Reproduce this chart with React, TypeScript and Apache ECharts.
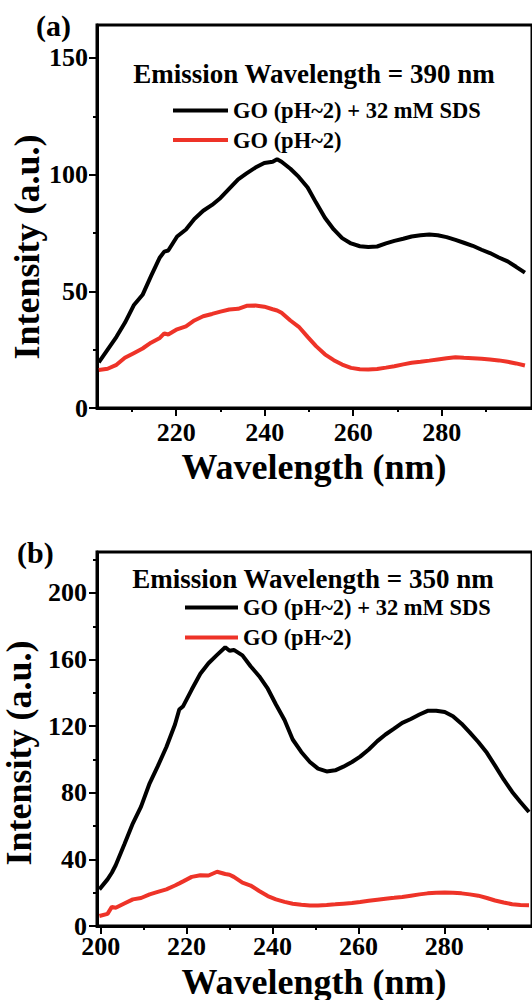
import React, { useEffect, useRef } from "react";
import * as echarts from "echarts";

const FONT = "'Liberation Serif', 'Times New Roman', serif";
const RED = "#ee3328";

const seriesNames = ["GO (pH~2) + 32 mM SDS", "GO (pH~2)"];
const panelLabels = ["(a)", "(b)"];
const emissionTexts = ["Emission Wavelength = 390 nm", "Emission Wavelength = 350 nm"];
const xTitle = "Wavelength (nm)";
const yTitle = "Intensity (a.u.)";

// Panel (a)
const topWavelength = [202.5, 204.5, 206.5, 208.4, 210.4, 212.4, 214.3, 216.3, 217.3, 218.2, 220.2, 222.2, 224.1, 226.1, 228.1, 230.0, 232.0, 234.0, 235.9, 237.9, 239.9, 241.8, 242.8, 243.8, 245.8, 247.7, 249.7, 251.6, 253.6, 255.6, 257.5, 259.5, 261.5, 263.4, 265.4, 267.4, 269.3, 271.3, 273.2, 275.2, 277.2, 279.1, 281.1, 283.1, 285.0, 287.0, 289.0, 290.9, 292.9, 294.9, 296.8, 298.8];
const topSds = [19.5, 25, 30.5, 36.5, 44, 48.5, 56.5, 64.5, 67, 67.5, 73.5, 76.5, 81, 84.5, 87, 90, 94, 98, 100.5, 103, 105, 105.5, 106.6, 105.5, 102.5, 99, 94.5, 88, 81.5, 76.5, 72.8, 70.5, 69.3, 69, 69.2, 70.5, 71.6, 72.5, 73.5, 74, 74.3, 74, 73.2, 72, 70.8, 69.5, 67.8, 66.4, 64.5, 62.8, 60.5, 58];
const topGo = [16.3, 16.8, 18.5, 21.5, 23.5, 25.5, 28, 30, 32, 31.5, 33.7, 35, 37.5, 39.3, 40.3, 41.3, 42.2, 42.5, 43.8, 43.9, 43.4, 42.3, 41.8, 40.8, 37.5, 34.8, 30.5, 26.5, 23, 20.5, 18.6, 17.2, 16.6, 16.5, 16.7, 17.3, 17.9, 18.7, 19.4, 19.8, 20.3, 20.8, 21.3, 21.7, 21.5, 21.3, 21.1, 20.8, 20.4, 19.8, 19.1, 18.2];
const topXMajor = [220, 240, 260, 280];
const topXMinor = [210, 230, 250, 270, 290];
const topYMajor = [0, 50, 100, 150];
const topYMinor = [25, 75, 125];

// Panel (b)
const botWavelength = [199.7, 201.6, 202.6, 203.5, 205.5, 207.5, 209.4, 211.4, 213.3, 215.3, 217.3, 218.3, 219.2, 221.2, 223.2, 225.1, 227.1, 229.0, 230.0, 231.0, 233.0, 234.9, 236.9, 238.9, 240.8, 242.8, 244.7, 246.7, 248.7, 250.6, 252.6, 254.6, 256.5, 258.5, 260.4, 262.4, 264.4, 266.3, 268.3, 270.2, 272.2, 274.2, 276.1, 278.1, 280.1, 282.0, 284.0, 285.9, 287.9, 289.9, 291.8, 293.8, 295.8, 297.7, 299.7];
const botSds = [22, 28, 32, 36.5, 49, 61.7, 71.7, 85.7, 96, 107.5, 121, 130, 132, 142, 151.5, 157.8, 162.8, 167.4, 165.3, 165.8, 162.5, 156, 150, 142.5, 133, 123.7, 112, 104.5, 98.5, 94.5, 92.8, 93.5, 95.7, 98.5, 101.7, 106, 111, 115, 118.5, 122, 124.3, 127, 129.2, 129.3, 128.5, 126, 121.5, 116.3, 110.5, 104, 96.3, 88, 80.5, 74.5, 68.5];
const botGo = [6, 7.3, 11.5, 11, 13.5, 16, 16.8, 19, 20.5, 22, 24.3, 25.6, 26.8, 29.5, 30.5, 30.3, 32.6, 31.2, 30.8, 29.5, 26, 24.3, 21, 18, 16, 14.5, 13.4, 12.8, 12.3, 12.3, 12.6, 13, 13.4, 13.8, 14.4, 15.1, 15.8, 16.4, 16.9, 17.4, 18.2, 19, 19.6, 20, 20.1, 20, 19.6, 19, 18.2, 16.8, 15.3, 14.1, 13.1, 12.6, 12.5];
const botXMajor = [200, 220, 240, 260, 280];
const botXMinor = [210, 230, 250, 270, 290];
const botYMajor = [0, 40, 80, 120, 160, 200];
const botYMinor = [20, 60, 100, 140, 180, 220];

const labelStyle = { fontFamily: FONT, fontWeight: "bold" as const, fontSize: 26, color: "#000" };

function mainX(gridIndex: number, min: number, max: number, major: number[], margin: number) {
  return {
    type: "value", gridIndex, min, max, position: "bottom",
    axisLine: { show: true, onZero: false, lineStyle: { color: "#000", width: 3 } },
    axisTick: { show: true, inside: false, length: 8, customValues: major, lineStyle: { color: "#000", width: 2 } },
    axisLabel: { ...labelStyle, lineHeight: 20, margin, customValues: major },
    splitLine: { show: false },
  };
}
function minorX(gridIndex: number, min: number, max: number, minor: number[]) {
  return {
    type: "value", gridIndex, min, max, position: "bottom",
    axisLine: { show: false, onZero: false },
    axisTick: { show: true, inside: false, length: 4, customValues: minor, lineStyle: { color: "#000", width: 2 } },
    axisLabel: { show: false },
    splitLine: { show: false },
  };
}
function mainY(gridIndex: number, min: number, max: number, major: number[], margin: number) {
  return {
    type: "value", gridIndex, min, max, position: "left",
    axisLine: { show: true, onZero: false, lineStyle: { color: "#000", width: 3 } },
    axisTick: { show: true, inside: false, length: 8, customValues: major, lineStyle: { color: "#000", width: 2 } },
    axisLabel: { ...labelStyle, lineHeight: 16, margin, customValues: major },
    splitLine: { show: false },
  };
}
function minorY(gridIndex: number, min: number, max: number, minor: number[]) {
  return {
    type: "value", gridIndex, min, max, position: "left",
    axisLine: { show: false, onZero: false },
    axisTick: { show: true, inside: false, length: 4, customValues: minor, lineStyle: { color: "#000", width: 2 } },
    axisLabel: { show: false },
    splitLine: { show: false },
  };
}

function line(name: string, xs: number[], ys: number[], color: string, axis: number) {
  return {
    type: "line", name, xAxisIndex: axis, yAxisIndex: axis,
    data: xs.map((x, i) => [x, ys[i]]),
    symbol: "none", showSymbol: false, clip: true,
    lineStyle: { color, width: 4 }, itemStyle: { color },
    z: name === seriesNames[0] ? 3 : 2,
  };
}

function txt(text: string, x: number, y: number, size: number, align: string, rotation = 0) {
  return {
    type: "text", x, y, rotation, z: 100,
    style: {
      text, fill: "#000", fontFamily: FONT, fontWeight: "bold", fontSize: size,
      textAlign: align, textVerticalAlign: "middle",
    },
  };
}

function legend(left: number, top: number, w: number, gap: number) {
  return {
    orient: "vertical", left, top, padding: 0, itemWidth: w, itemHeight: 4, itemGap: gap,
    icon: "rect", selectedMode: false, data: seriesNames,
    textStyle: { fontFamily: FONT, fontWeight: "bold", fontSize: 22.5, lineHeight: 22, color: "#000" },
  };
}

export default function App() {
  const ref = useRef<HTMLDivElement>(null);
  useEffect(() => {
    if (!ref.current) return;
    const chart = echarts.init(ref.current, undefined, { renderer: "svg" });
    chart.setOption({
      animation: false,
      backgroundColor: "#fff",
      grid: [
        { left: 97, top: 25, width: 440, height: 383, show: true, borderColor: "#000", borderWidth: 3, backgroundColor: "transparent" },
        { left: 97, top: 552, width: 440, height: 374, show: true, borderColor: "#000", borderWidth: 3, backgroundColor: "transparent" },
      ],
      xAxis: [
        mainX(0, 202.1, 300.4, topXMajor, 14),
        minorX(0, 202.1, 300.4, topXMinor),
        mainX(1, 199.15, 300.4, botXMajor, 10),
        minorX(1, 199.15, 300.4, botXMinor),
      ],
      yAxis: [
        mainY(0, 0, 164.1, topYMajor, 9),
        minorY(0, 0, 164.1, topYMinor),
        mainY(1, 0, 224.6, botYMajor, 10),
        minorY(1, 0, 224.6, botYMinor),
      ],
      legend: [legend(173, 99, 55, 6.5), legend(185, 596, 53, 7)],
      series: [
        line(seriesNames[0], topWavelength, topSds, "#000", 0),
        line(seriesNames[1], topWavelength, topGo, RED, 0),
        line(seriesNames[0], botWavelength, botSds, "#000", 2),
        line(seriesNames[1], botWavelength, botGo, RED, 2),
      ],
      graphic: [
        txt(panelLabels[0], 36, 25, 30, "left"),
        txt(panelLabels[1], 17, 552, 30, "left"),
        txt(emissionTexts[0], 314, 74, 27, "center"),
        txt(emissionTexts[1], 313, 579, 27, "center"),
        txt(xTitle, 314, 467, 36, "center"),
        txt(xTitle, 314, 982, 36, "center"),
        txt(yTitle, 27, 247, 36, "center", Math.PI / 2),
        txt(yTitle, 19, 753, 36, "center", Math.PI / 2),
      ],
    });
    return () => chart.dispose();
  }, []);
  return <div ref={ref} style={{ position: "absolute", left: 0, top: 0, width: 532, height: 1000 }} />;
}
